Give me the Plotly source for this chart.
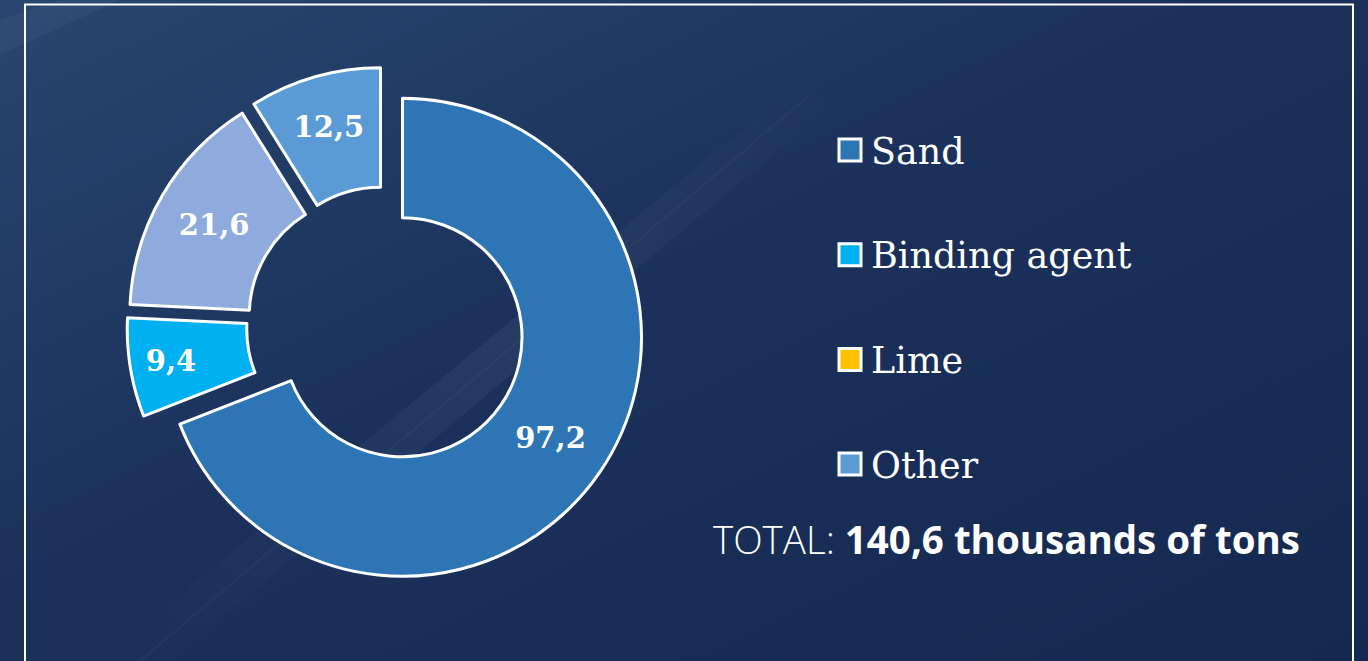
import base64
import plotly.graph_objects as go

# ---- data ----
slice_labels = ["Sand", "Binding agent", "Lime", "Other"]
slice_values = [97.2, 9.4, 21.6, 12.5]
slice_colors = ["#2E75B6", "#00B0F0", "#8FAADC", "#5B9BD5"]

legend_labels = ["Sand", "Binding agent", "Lime", "Other"]
legend_colors = ["#2E75B6", "#00B0F0", "#FFC000", "#5B9BD5"]

total_value = "140,6"
total_unit = "thousands of tons"

W, H = 1368, 661

def px_x(x):
    return x / W

def px_y(y):
    return 1 - y / H

# ---- background (svg gradient with light streak) ----
svg = f'''<svg xmlns="http://www.w3.org/2000/svg" width="{W}" height="{H}" viewBox="0 0 {W} {H}" preserveAspectRatio="none">
<defs>
<linearGradient id="g" x1="0" y1="0" x2="1" y2="1">
<stop offset="0" stop-color="#28466f"/>
<stop offset="0.45" stop-color="#1b315b"/>
<stop offset="1" stop-color="#152850"/>
</linearGradient>
<linearGradient id="s" x1="0" y1="1" x2="1" y2="0">
<stop offset="0" stop-color="#ffffff" stop-opacity="0"/>
<stop offset="0.55" stop-color="#ffffff" stop-opacity="0.05"/>
<stop offset="1" stop-color="#ffffff" stop-opacity="0"/>
</linearGradient>
</defs>
<rect width="{W}" height="{H}" fill="url(#g)"/>
<polygon points="100,{H} 790,90 850,90 170,{H}" fill="url(#s)"/>
<line x1="140" y1="{H}" x2="810" y2="95" stroke="#ffffff" stroke-opacity="0.03" stroke-width="2"/>
<polygon points="0,55 0,20 60,0 120,0" fill="#ffffff" fill-opacity="0.035"/>
</svg>'''
svg_uri = "data:image/svg+xml;base64," + base64.b64encode(svg.encode()).decode()

# ---- pie geometry (pixels) ----
cx, cy, R, pull_px = 386, 326, 239, 20
pull = pull_px / R
box = R * (2 + 2 * pull)

fig = go.Figure()
fig.add_trace(go.Pie(
    labels=slice_labels,
    values=slice_values,
    hole=0.5,
    sort=False,
    direction="clockwise",
    rotation=0,
    pull=[pull] * len(slice_values),
    marker=dict(colors=slice_colors, line=dict(color="#ffffff", width=3)),
    textinfo="value",
    textposition="inside",
    insidetextorientation="horizontal",
    textfont=dict(family="DejaVu Serif", size=29, color="#ffffff", weight="bold"),
    domain=dict(x=[px_x(cx - box / 2), px_x(cx + box / 2)],
                y=[px_y(cy + box / 2), px_y(cy - box / 2)]),
    showlegend=False,
    hoverinfo="label+value",
))

shapes = [dict(type="rect", xref="paper", yref="paper",
               x0=px_x(25), x1=px_x(1353), y0=px_y(690), y1=px_y(4.5),
               line=dict(color="#ffffff", width=2), fillcolor="rgba(0,0,0,0)")]
annotations = []

legend_y0, legend_dy = 150, 104.7
for i, (name, col) in enumerate(zip(legend_labels, legend_colors)):
    yc = legend_y0 + i * legend_dy
    shapes.append(dict(type="rect", xref="paper", yref="paper",
                       x0=px_x(839), x1=px_x(861), y0=px_y(yc + 11), y1=px_y(yc - 11),
                       fillcolor=col, line=dict(color="#ffffff", width=3)))
    annotations.append(dict(x=px_x(869), y=px_y(yc + 1), xref="paper", yref="paper",
                            text=name, showarrow=False, xanchor="left", yanchor="middle",
                            font=dict(family="DejaVu Serif", size=36.5, color="#ffffff")))

annotations.append(dict(x=px_x(1006), y=px_y(539), xref="paper", yref="paper",
                        text=f"TOTAL: <b>{total_value} {total_unit}</b>",
                        showarrow=False, xanchor="center", yanchor="middle",
                        font=dict(family="Open Sans", size=38.5, color="#ffffff", weight=300)))

fig.update_layout(
    width=W, height=H,
    margin=dict(l=0, r=0, t=0, b=0),
    paper_bgcolor="#1a2f5a",
    plot_bgcolor="rgba(0,0,0,0)",
    separators=", ",
    images=[dict(source=svg_uri, xref="paper", yref="paper",
                 x=0, y=1, sizex=1, sizey=1,
                 sizing="stretch", layer="below",
                 xanchor="left", yanchor="top")],
    shapes=shapes,
    annotations=annotations,
)

fig.write_html(
    "out.html",
    config={"displayModeBar": False, "displaylogo": False},
    post_script="document.body.style.margin='0';document.body.style.background='#1a2f5a';document.body.style.overflow='hidden';",
)
